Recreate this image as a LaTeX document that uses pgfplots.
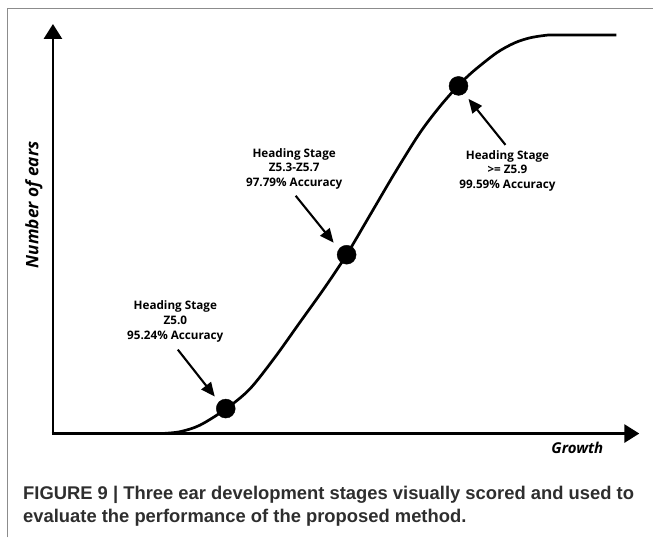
\documentclass[border=0pt]{standalone}
\usepackage{pgfplots}
\pgfplotsset{compat=1.18}
\usepackage{fontspec}
\setmainfont{Open Sans}
\newfontfamily\capfont{Liberation Sans}
\usetikzlibrary{arrows.meta}
\definecolor{framegray}{HTML}{8C8C8C}
\definecolor{captxt}{HTML}{2E2E2E}
\begin{document}
\begin{tikzpicture}
\begin{axis}[
  width=654bp, height=538bp, scale only axis,
  xmin=0, xmax=654, ymin=0, ymax=538, y dir=reverse,
  hide axis, clip=false,
]
% fix bounding box
\path (axis cs:0,0) rectangle (axis cs:654,538);
% frame
\draw[framegray, line width=1.4bp] (axis cs:7.5,538) -- (axis cs:7.5,8.5) -- (axis cs:654,8.5);
% axes
\draw[line width=2.8bp, -{Triangle[length=15bp,width=18bp]}] (axis cs:53,435) -- (axis cs:53,24);
\draw[line width=2.8bp, -{Triangle[length=15bp,width=18bp]}] (axis cs:51.6,434) -- (axis cs:640,434);
% growth curve
\addplot[black, line width=2.7bp, smooth, tension=0.5] coordinates {
(162,434) (180,432.2) (200,425.7) (226,409.5) (250,389.5) (275,358)
(300,323) (325,288) (347,255) (370,216) (395,173.5) (420,133.5)
(440,107) (458,86.5) (473,72) (497,53) (515,43) (530,38) (545,35.5)
(556,35) (617,35)
};
% stage points
\addplot[only marks, mark=*, mark size=9.5bp, black] coordinates {
(226,409) (347,255) (459,86)
};
% annotation arrows
\draw[line width=2.1bp, -{Triangle[length=14bp,width=12bp]}] (axis cs:178,350) -- (axis cs:215,397);
\draw[line width=2.1bp, -{Triangle[length=14bp,width=12bp]}] (axis cs:296,196) -- (axis cs:334,243);
\draw[line width=2.1bp, -{Triangle[length=14bp,width=12bp]}] (axis cs:506,145) -- (axis cs:469,99);
% annotations
\node[align=center, font=\fontsize{11.7bp}{14.8bp}\selectfont\bfseries, inner sep=0pt]
  at (axis cs:175.5,322) {Heading Stage\\Z5.0\\95.24\% Accuracy};
\node[align=center, font=\fontsize{11.7bp}{14.8bp}\selectfont\bfseries, inner sep=0pt]
  at (axis cs:294.5,169) {Heading Stage\\Z5.3-Z5.7\\97.79\% Accuracy};
\node[align=center, font=\fontsize{11.7bp}{14.8bp}\selectfont\bfseries, inner sep=0pt]
  at (axis cs:508,171) {Heading Stage\\>= Z5.9\\99.59\% Accuracy};
% axis labels
\node[rotate=90, font=\fontsize{17.2bp}{18bp}\selectfont\bfseries\itshape, inner sep=0pt]
  at (axis cs:34,205) {Number of ears};
\node[font=\fontsize{15bp}{18bp}\selectfont\bfseries\itshape, inner sep=0pt]
  at (axis cs:578,448) {Growth};
% caption
\node[anchor=base west, font=\capfont\fontsize{18.4bp}{20bp}\selectfont\bfseries, text=captxt, inner sep=0pt]
  at (axis cs:23,500) {FIGURE 9 | Three ear development stages visually scored and used to};
\node[anchor=base west, font=\capfont\fontsize{18.4bp}{20bp}\selectfont\bfseries, text=captxt, inner sep=0pt]
  at (axis cs:23,523) {evaluate the performance of the proposed method.};
\end{axis}
\end{tikzpicture}
\end{document}
